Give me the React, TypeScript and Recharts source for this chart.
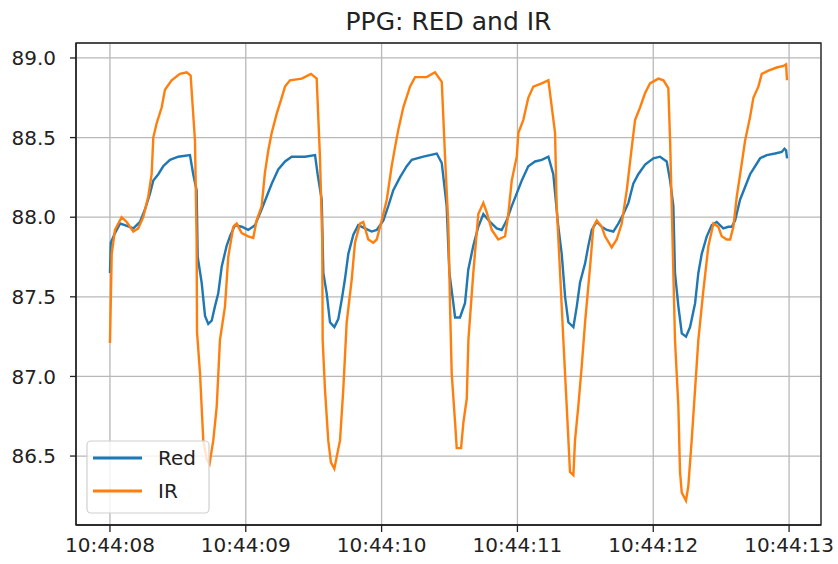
import React from "react";
import {
  LineChart,
  Line,
  XAxis,
  YAxis,
  CartesianGrid,
  ReferenceArea,
} from "recharts";

// Seconds after 10:44:08 and the sensor readings for the IR channel.
const irTime = [
  0.0, 0.013, 0.037, 0.086, 0.123, 0.172, 0.208, 0.245, 0.282, 0.307, 0.319, 0.344,
  0.381, 0.405, 0.454, 0.515, 0.565, 0.594, 0.626, 0.638, 0.641, 0.663, 0.687, 0.712,
  0.733, 0.761, 0.786, 0.81, 0.847, 0.871, 0.908, 0.933, 0.97, 1.018, 1.055, 1.08,
  1.117, 1.141, 1.166, 1.191, 1.228, 1.264, 1.289, 1.325, 1.412, 1.48, 1.522, 1.546,
  1.563, 1.566, 1.583, 1.607, 1.627, 1.652, 1.694, 1.718, 1.743, 1.78, 1.804, 1.841,
  1.865, 1.902, 1.939, 1.964, 2.001, 2.038, 2.074, 2.099, 2.123, 2.16, 2.209, 2.246,
  2.332, 2.393, 2.443, 2.467, 2.491, 2.504, 2.516, 2.541, 2.553, 2.585, 2.602, 2.627,
  2.639, 2.675, 2.712, 2.749, 2.774, 2.811, 2.859, 2.909, 2.933, 2.958, 2.995, 3.007,
  3.043, 3.08, 3.117, 3.179, 3.228, 3.277, 3.289, 3.314, 3.338, 3.363, 3.387, 3.412,
  3.424, 3.448, 3.473, 3.498, 3.535, 3.559, 3.584, 3.621, 3.645, 3.694, 3.731, 3.768,
  3.805, 3.842, 3.866, 3.903, 3.94, 3.976, 4.038, 4.075, 4.111, 4.124, 4.136, 4.148,
  4.16, 4.185, 4.197, 4.21, 4.241, 4.258, 4.283, 4.308, 4.332, 4.369, 4.406, 4.443,
  4.479, 4.504, 4.541, 4.566, 4.59, 4.615, 4.652, 4.676, 4.713, 4.737, 4.774, 4.799,
  4.848, 4.909, 4.958, 4.978, 4.985,
];
const irValue = [
  87.21, 87.77, 87.92, 88.0, 87.97, 87.91, 87.93, 88.0, 88.13, 88.27, 88.5, 88.59,
  88.69, 88.8, 88.86, 88.9, 88.91, 88.89, 88.48, 87.86, 87.28, 87.02, 86.6, 86.48,
  86.45, 86.6, 86.81, 87.23, 87.44, 87.75, 87.94, 87.96, 87.9, 87.88, 87.87, 87.98,
  88.07, 88.28, 88.42, 88.53, 88.65, 88.75, 88.82, 88.86, 88.87, 88.9, 88.87, 88.38,
  87.86, 87.23, 86.92, 86.6, 86.46, 86.42, 86.6, 86.92, 87.34, 87.61, 87.84, 87.96,
  87.97, 87.86, 87.84, 87.86, 87.98, 88.11, 88.32, 88.44, 88.55, 88.69, 88.82, 88.88,
  88.88, 88.91, 88.85, 88.38, 87.96, 87.44, 87.02, 86.71, 86.55, 86.55, 86.71, 86.86,
  87.23, 87.65, 88.02, 88.09, 88.03, 87.92, 87.86, 87.88, 88.02, 88.23, 88.38, 88.53,
  88.61, 88.75, 88.82, 88.84, 88.86, 88.53, 88.07, 87.65, 87.23, 86.81, 86.4, 86.38,
  86.6, 86.81, 87.06, 87.34, 87.69, 87.94, 87.98, 87.94, 87.88, 87.81, 87.86, 87.96,
  88.17, 88.44, 88.61, 88.69, 88.78, 88.84, 88.87, 88.86, 88.81, 88.48, 88.07, 87.65,
  87.23, 86.81, 86.4, 86.27, 86.22, 86.31, 86.6, 86.92, 87.23, 87.54, 87.82, 87.96,
  87.94, 87.88, 87.86, 87.86, 87.94, 88.13, 88.34, 88.48, 88.63, 88.75, 88.82, 88.9,
  88.92, 88.94, 88.95, 88.96, 88.86,
];

// Seconds after 10:44:08 and the sensor readings for the red channel.
const redTime = [
  0.0, 0.006, 0.037, 0.074, 0.11, 0.172, 0.221, 0.258, 0.295, 0.319, 0.356, 0.392,
  0.442, 0.503, 0.589, 0.613, 0.638, 0.646, 0.675, 0.7, 0.724, 0.749, 0.773, 0.797,
  0.823, 0.859, 0.884, 0.92, 0.97, 1.018, 1.068, 1.117, 1.154, 1.191, 1.239, 1.289,
  1.338, 1.436, 1.51, 1.529, 1.559, 1.571, 1.596, 1.62, 1.652, 1.681, 1.706, 1.73,
  1.755, 1.792, 1.828, 1.878, 1.927, 1.964, 2.013, 2.049, 2.086, 2.135, 2.185, 2.222,
  2.307, 2.406, 2.443, 2.479, 2.499, 2.528, 2.541, 2.577, 2.614, 2.638, 2.675, 2.712,
  2.749, 2.798, 2.848, 2.884, 2.921, 2.958, 2.995, 3.032, 3.08, 3.13, 3.179, 3.228,
  3.264, 3.301, 3.326, 3.351, 3.375, 3.412, 3.437, 3.461, 3.498, 3.522, 3.547, 3.584,
  3.621, 3.658, 3.706, 3.743, 3.78, 3.817, 3.853, 3.89, 3.94, 4.001, 4.05, 4.099,
  4.124, 4.148, 4.16, 4.185, 4.21, 4.241, 4.271, 4.308, 4.332, 4.357, 4.394, 4.431,
  4.467, 4.516, 4.553, 4.578, 4.603, 4.639, 4.676, 4.713, 4.75, 4.787, 4.836, 4.897,
  4.946, 4.966, 4.978, 4.985,
];
const redValue = [
  87.65, 87.84, 87.9, 87.96, 87.95, 87.93, 87.97, 88.05, 88.15, 88.23, 88.27, 88.32,
  88.36, 88.38, 88.39, 88.27, 88.17, 87.75, 87.59, 87.38, 87.33, 87.35, 87.44, 87.52,
  87.69, 87.82, 87.88, 87.95, 87.94, 87.92, 87.95, 88.05, 88.13, 88.21, 88.3, 88.35,
  88.38, 88.38, 88.39, 88.27, 88.11, 87.65, 87.52, 87.34, 87.31, 87.36, 87.48, 87.61,
  87.77, 87.89, 87.95, 87.93, 87.91, 87.92, 87.98, 88.07, 88.17, 88.25, 88.32, 88.36,
  88.38, 88.4, 88.34, 88.07, 87.65, 87.46, 87.37, 87.37, 87.46, 87.67, 87.82, 87.94,
  88.02, 87.97, 87.93, 87.92, 87.98, 88.07, 88.15, 88.23, 88.32, 88.35, 88.36, 88.38,
  88.27, 87.94, 87.77, 87.5, 87.34, 87.31, 87.44, 87.59, 87.71, 87.82, 87.92, 87.97,
  87.94, 87.92, 87.91, 87.96, 88.02, 88.09, 88.21, 88.27, 88.33, 88.37, 88.38, 88.35,
  88.23, 88.07, 87.65, 87.44, 87.27, 87.25, 87.31, 87.46, 87.65, 87.77, 87.88, 87.95,
  87.97, 87.93, 87.94, 87.94, 87.98, 88.11, 88.19, 88.27, 88.32, 88.37, 88.39, 88.4,
  88.41, 88.43, 88.42, 88.37,
];

const timeTicks = [0, 1, 2, 3, 4, 5];
const timeTickLabels = [
  "10:44:08",
  "10:44:09",
  "10:44:10",
  "10:44:11",
  "10:44:12",
  "10:44:13",
];
const valueTicks = [86.5, 87.0, 87.5, 88.0, 88.5, 89.0];

const seriesNames = ["Red", "IR"];
const seriesColors = ["#1f77b4", "#ff7f0e"];

const X_DOMAIN: [number, number] = [-0.25, 5.235];
const Y_DOMAIN: [number, number] = [86.067, 89.094];

const FONT = "'DejaVu Sans', sans-serif";
const W = 838;
const H = 564;

const zip = (ts: number[], vs: number[]) => ts.map((t, i) => ({ t, v: vs[i] }));
const redData = zip(redTime, redValue);
const irData = zip(irTime, irValue);

export default function App() {
  return (
    <div
      style={{
        position: "absolute",
        left: 0,
        top: 0,
        width: W,
        height: H,
        background: "#fff",
        fontFamily: FONT,
      }}
    >
      <LineChart
        width={W}
        height={H}
        margin={{ top: 43, right: 17, bottom: 0, left: 0 }}
      >
        <CartesianGrid stroke="#b8b8b8" strokeWidth={1.3} />
        <XAxis
          type="number"
          dataKey="t"
          domain={X_DOMAIN}
          ticks={timeTicks}
          tickFormatter={(v: number) => timeTickLabels[timeTicks.indexOf(v)] ?? ""}
          allowDataOverflow
          height={39}
          tickSize={7}
          tickMargin={6}
          stroke="#222"
          strokeWidth={1.3}
          tick={{ fontSize: 20, fill: "#222", fontFamily: FONT }}
        />
        <YAxis
          type="number"
          domain={Y_DOMAIN}
          ticks={valueTicks}
          tickFormatter={(v: number) => v.toFixed(1)}
          allowDataOverflow
          width={76}
          tickSize={6}
          tickMargin={14}
          stroke="#222"
          strokeWidth={1.3}
          tick={{ fontSize: 20, fill: "#222", fontFamily: FONT }}
        />
        <Line
          data={redData}
          dataKey="v"
          name={seriesNames[0]}
          stroke={seriesColors[0]}
          strokeWidth={2.4}
          dot={false}
          isAnimationActive={false}
        />
        <Line
          data={irData}
          dataKey="v"
          name={seriesNames[1]}
          stroke={seriesColors[1]}
          strokeWidth={2.4}
          dot={false}
          isAnimationActive={false}
        />
        <ReferenceArea
          x1={X_DOMAIN[0]}
          x2={X_DOMAIN[1]}
          y1={Y_DOMAIN[0]}
          y2={Y_DOMAIN[1]}
          fill="none"
          stroke="#222"
          strokeWidth={1.3}
          ifOverflow="visible"
        />
      </LineChart>
      <svg
        width={W}
        height={H}
        style={{ position: "absolute", left: 0, top: 0, pointerEvents: "none" }}
      >
        <text
          x={448.5}
          y={30}
          textAnchor="middle"
          fontSize={25}
          fill="#222"
          fontFamily={FONT}
        >
          PPG: RED and IR
        </text>
        <rect
          x={87}
          y={441}
          width={122}
          height={72}
          rx={4}
          fill="rgba(255,255,255,0.8)"
          stroke="#d0d0d0"
          strokeWidth={1.2}
        />
        {seriesNames.map((name, i) => (
          <g key={name}>
            <line
              x1={93}
              x2={142}
              y1={458 + i * 33}
              y2={458 + i * 33}
              stroke={seriesColors[i]}
              strokeWidth={2.8}
            />
            <text
              x={158}
              y={465 + i * 33}
              fontSize={20}
              fill="#222"
              fontFamily={FONT}
            >
              {name}
            </text>
          </g>
        ))}
      </svg>
    </div>
  );
}
